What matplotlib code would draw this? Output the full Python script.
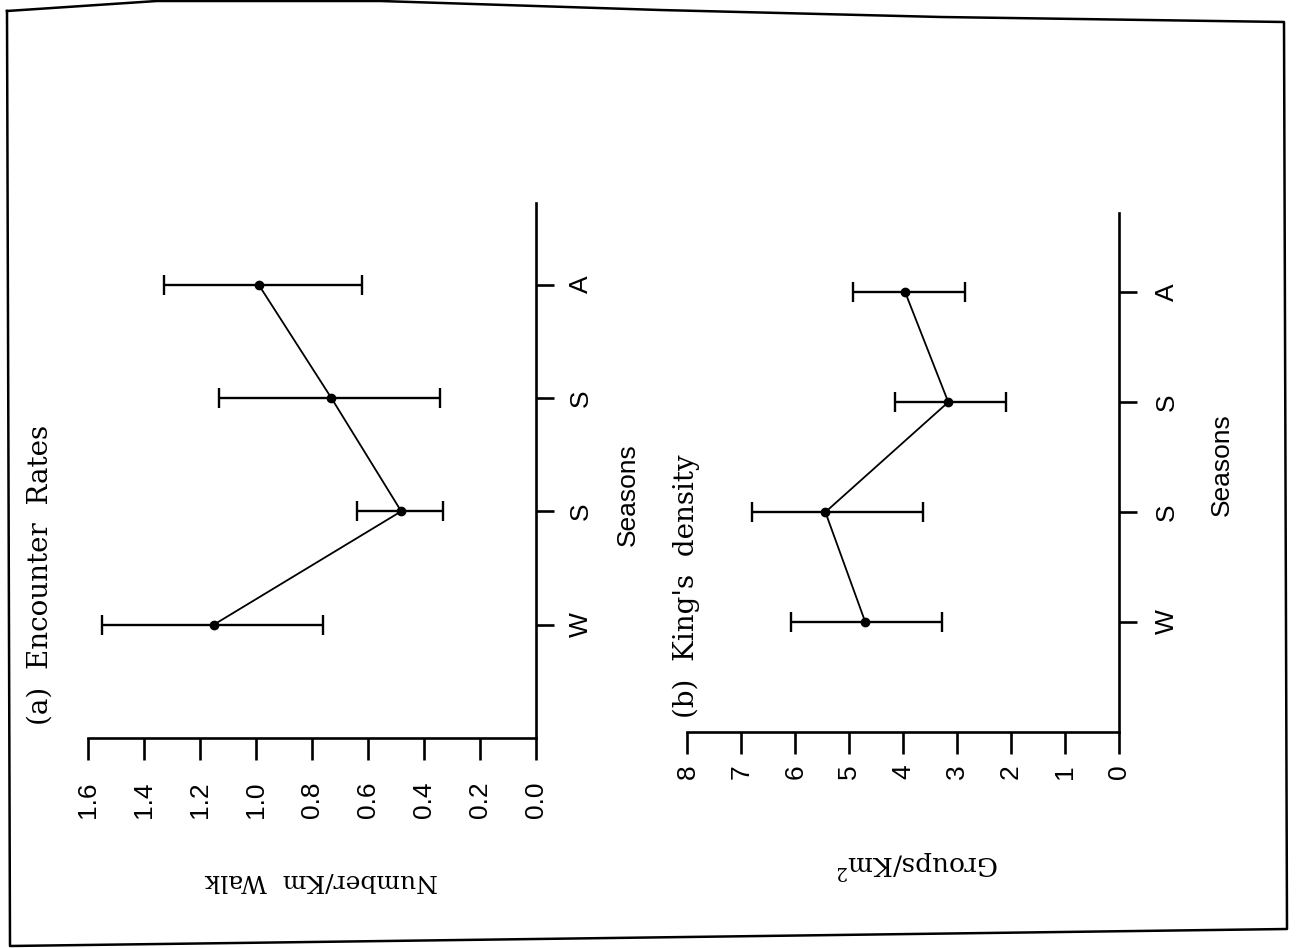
import numpy as np
import matplotlib

matplotlib.use("Agg")
import matplotlib.pyplot as plt
from matplotlib.lines import Line2D

# data
seasons = ["W", "S", "S", "A"]
season_pos = [1, 2, 3, 4]

enc_mean = [1.15, 0.48, 0.73, 0.99]
enc_low = [0.76, 0.33, 0.34, 0.62]
enc_high = [1.55, 0.64, 1.13, 1.33]
enc_ticks = [0.0, 0.2, 0.4, 0.6, 0.8, 1.0, 1.2, 1.4, 1.6]

dens_mean = [4.70, 5.44, 3.16, 3.96]
dens_low = [3.27, 3.63, 2.08, 2.85]
dens_high = [6.07, 6.80, 4.14, 4.93]
dens_ticks = [0, 1, 2, 3, 4, 5, 6, 7, 8]

W, H = 1302, 948
plt.rcParams["mathtext.fontset"] = "dejavuserif"
SANS = "Liberation Sans"
SERIF = "DejaVu Serif"

fig = plt.figure(figsize=(W / 100, H / 100), dpi=100)


def px(x0, y_top, x1, y_bot):
    return [x0 / W, 1 - y_bot / H, (x1 - x0) / W, (y_bot - y_top) / H]


def panel(ax, mean, low, high, ticks, fmt, xpad, ypad):
    mean = np.array(mean)
    err = [mean - np.array(low), np.array(high) - mean]
    ax.errorbar(mean, season_pos, xerr=err, fmt="o-", color="black", ms=6,
                lw=1.3, elinewidth=1.7, capsize=7, capthick=1.7)
    ax.set_xlim(ticks[-1], ticks[0])
    ax.set_ylim(0, 4.72)
    for s in ("top", "left"):
        ax.spines[s].set_visible(False)
    for s in ("bottom", "right"):
        ax.spines[s].set_linewidth(1.9)
    ax.yaxis.tick_right()
    ax.set_xticks(ticks)
    ax.set_xticklabels([fmt.format(t) for t in ticks], rotation=90,
                       family=SANS, fontsize=19)
    ax.set_yticks(season_pos)
    ax.set_yticklabels(seasons, rotation=90, family=SANS, fontsize=19,
                       va="center")
    ax.tick_params(axis="x", direction="out", length=16, width=1.9, pad=xpad)
    ax.tick_params(axis="y", direction="out", length=13, width=1.9, pad=ypad)


ax_a = fig.add_axes(px(88, 203, 535.5, 738))
panel(ax_a, enc_mean, enc_low, enc_high, enc_ticks, "{:.1f}", 15, 11)

ax_b = fig.add_axes(px(687.4, 213, 1118.6, 732))
panel(ax_b, dens_mean, dens_low, dens_high, dens_ticks, "{:d}", 7, 13)


def ftext(x, y, s, **kw):
    fig.text(x / W, 1 - y / H, s, **kw)


ftext(40, 725, "(a)  Encounter  Rates", rotation=90, ha="center", va="bottom",
      family=SERIF, fontsize=20)
ftext(686, 718, "(b)  King's  density", rotation=90, ha="center", va="bottom",
      family=SERIF, fontsize=20)
ftext(628, 495, "Seasons", rotation=90, ha="center", va="center",
      family=SANS, fontsize=19)
ftext(1222, 465, "Seasons", rotation=90, ha="center", va="center",
      family=SANS, fontsize=19)
ftext(321, 881, "Number/Km  Walk", rotation=180, ha="center", va="center",
      family=SERIF, fontsize=18)
ftext(918, 864, "Groups/Km$^2$", rotation=180, ha="center", va="center",
      family=SERIF, fontsize=19)

# page border of the scan
bx = [7, 157, 380, 660, 941, 1284, 1287, 10, 7]
by = [11, 1, 1, 10, 17, 22, 929, 946, 11]
fig.add_artist(Line2D([x / W for x in bx], [1 - y / H for y in by],
                      transform=fig.transFigure, color="black", lw=1.8))

fig.savefig("out.png", dpi=100, facecolor="white")
